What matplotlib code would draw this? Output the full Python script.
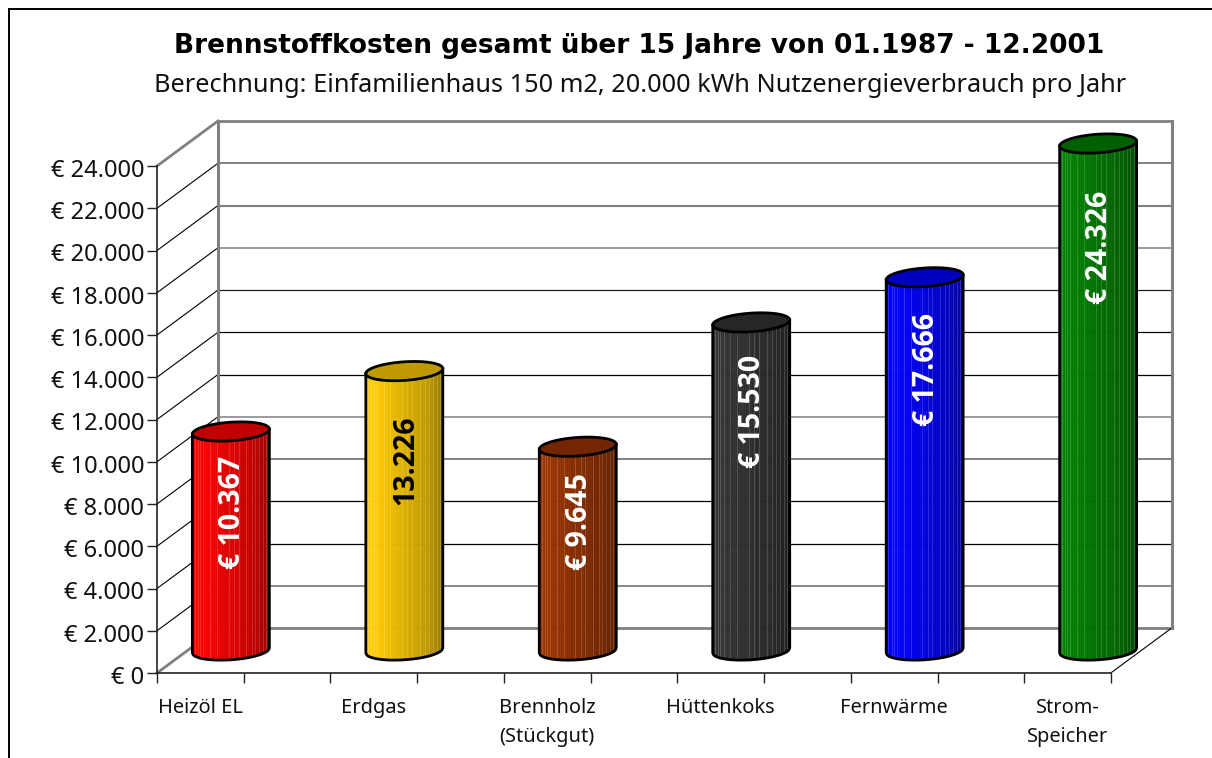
import numpy as np
import matplotlib
matplotlib.use("Agg")
import matplotlib.pyplot as plt
from matplotlib.lines import Line2D
from matplotlib.transforms import ScaledTranslation

categories = ["Heizöl EL", "Erdgas", "Brennholz\n(Stückgut)", "Hüttenkoks", "Fernwärme", "Strom-\nSpeicher"]
values = [10367, 13226, 9645, 15530, 17666, 24326]
value_labels = ["€ 10.367", "13.226", "€ 9.645", "€ 15.530", "€ 17.666", "€ 24.326"]
label_heights = [6556, 9018, 6083, 11337, 13325, 19100]
label_colors = ["white", "black", "white", "white", "white", "white"]
axis_ticks = list(range(0, 26000, 2000))
axis_tick_labels = ["€ 0"] + [f"€ {v // 1000}.000" for v in axis_ticks[1:]]

bright = ["#FF0000", "#FFCC00", "#993300", "#333333", "#0000FF", "#008000"]
top_colors = ["#C00000", "#BF9900", "#732600", "#262626", "#0000BF", "#006000"]
grid_colors = ["#808080", "#808080", "#000000", "#000000", "#808080", "#808080", "#000000",
               "#000000", "#202020", "#808080", "#808080", "#606060", "#808080"]
grid_widths = [2.0, 1.3, 0.9, 0.9, 1.4, 1.1, 0.9, 0.9, 0.9, 1.1, 1.5, 1.1, 2.0]

W, H = 1212, 758
PX_X, PX_Y = 173.5, 507 / 24000
DX, DY = 61 / PX_X, 45 / PX_Y

fig = plt.figure(figsize=(W / 100, H / 100), dpi=100)
ax = fig.add_axes([157 / W, 1 - 673 / H, 954 / W, 507 / H])
ax.set_xlim(0, 954 / PX_X)
ax.set_ylim(0, 24000)
ax.patch.set_visible(False)
FONT = "Noto Sans"

for s in ("top", "right"):
    ax.spines[s].set_visible(False)
for s in ("left", "bottom"):
    ax.spines[s].set_linewidth(1.2)
    ax.spines[s].set_color("#222222")
ax.set_xticks(np.arange(0, 5.51, 0.5))
ax.set_xticklabels([])
ax.set_yticks(axis_ticks)
ax.set_yticklabels(axis_tick_labels, fontsize=17, family=FONT, color="#111111")
ax.tick_params(axis="both", direction="out", length=7.2, width=1.0, color="#222222", pad=2)
for lab in ax.get_yticklabels():
    lab.set_transform(lab.get_transform() + ScaledTranslation(0, -1.4 / 72, fig.dpi_scale_trans))

# walls and grid lines
xmax = 954 / PX_X
for v, c, w in zip(axis_ticks, grid_colors, grid_widths):
    ax.plot([DX, xmax + DX], [v + DY, v + DY], color=c, lw=w, clip_on=False, zorder=1,
            solid_capstyle="butt")
    edge = v in (0, 24000)
    ax.plot([0, DX], [v, v + DY], color="#808080" if edge else "#000000",
            lw=2.0 if edge else 0.8, clip_on=False, zorder=1)
ax.plot([DX, DX], [DY, 24000 + DY], color="#808080", lw=2.2, clip_on=False, zorder=1.5)
ax.plot([xmax + DX] * 2, [DY, 24000 + DY], color="#808080", lw=2.2, clip_on=False, zorder=1.5)
ax.plot([xmax, xmax + DX], [0, DY], color="#000000", lw=0.8, clip_on=False, zorder=1)

# cylinders
A = 38.5 / PX_X
B = 9.3 / PX_Y
C = 2.5 / PX_Y
S = np.linspace(-1, 1, 81)
stops_u = [0.0, 0.12, 0.45, 0.8, 1.0]
stops_f = [1.0, 1.0, 0.88, 0.75, 0.6]
hair = [0.03, 0.07, 0.10, 0.14, 0.23, 0.32, 0.47, 0.54, 0.60, 0.70, 0.77, 0.82, 0.87, 0.92, 0.96]


def lower(cy, s):
    return cy - B * np.sqrt(np.clip(1 - s ** 2, 0, 1)) + C * s


for i, (v, col, topc) in enumerate(zip(values, bright, top_colors)):
    cx = i + 0.25 + DX / 2
    y0, y1 = DY / 2, min(v, 24000) + DY / 2
    base = np.array(matplotlib.colors.to_rgb(col))
    edges = np.linspace(-1, 1, 41)
    for a, b in zip(edges[:-1], edges[1:]):
        ss = np.linspace(a, b, 5)
        u = (a + b + 2) / 4
        f = np.interp(u, stops_u, stops_f)
        xs = cx + A * ss
        ax.fill(np.r_[xs, xs[::-1]], np.r_[lower(y0, ss), lower(y1, ss)[::-1]],
                facecolor=base * f, edgecolor=base * f, lw=0.4, clip_on=False, zorder=3)
    for u in hair:
        s = np.array([u * 2 - 1])
        light = np.clip(base * np.interp(u, stops_u, stops_f) * 0.8 + 0.2, 0, 1)
        ax.plot([cx + A * s[0]] * 2, [lower(y0, s)[0], lower(y1, s)[0]], color=light,
                lw=0.6, clip_on=False, zorder=3.2)
    # outline
    xs = cx + A * S
    ax.plot(np.r_[xs[0], xs, xs[-1]], np.r_[y1 - C, lower(y0, S), y1 + C],
            color="black", lw=2.0, clip_on=False, zorder=3.5, solid_joinstyle="round")
    t = np.linspace(0, 2 * np.pi, 121)
    ax.fill(cx + A * np.cos(t), y1 + B * np.sin(t) + C * np.cos(t), facecolor=topc,
            edgecolor="black", lw=2.0, clip_on=False, zorder=4)
    ax.annotate(value_labels[i], (cx, label_heights[i] + DY / 2), xytext=(1, 0), textcoords="offset points",
                rotation=90, ha="center", va="center", color=label_colors[i], fontsize=20.5,
                fontweight="bold", family="Open Sans", zorder=5, annotation_clip=False)

# category labels
for i, lab in enumerate(categories):
    ax.annotate(lab, (i + 0.25, 0), xytext=(0, -18), textcoords="offset points",
                ha="center", va="top", fontsize=14.4, family=FONT, color="#111111", linespacing=1.58,
                annotation_clip=False)

# chart frame: only top and left edges visible
fig.add_artist(Line2D([8.5 / W, 8.5 / W], [0, 1 - 8.5 / H], color="black", lw=1.4))
fig.add_artist(Line2D([8.5 / W, 1], [1 - 8.5 / H, 1 - 8.5 / H], color="black", lw=1.4))

fig.text(639 / W, 1 - 46 / H, "Brennstoffkosten gesamt über 15 Jahre von 01.1987 - 12.2001",
         ha="center", va="center", fontsize=19, fontweight="bold", family="DejaVu Sans", color="black")
fig.text(640 / W, 1 - 86 / H, "Berechnung: Einfamilienhaus 150 m2, 20.000 kWh Nutzenergieverbrauch pro Jahr",
         ha="center", va="center", fontsize=18.2, family=FONT, color="#111111")

fig.savefig("out.png", dpi=100)
